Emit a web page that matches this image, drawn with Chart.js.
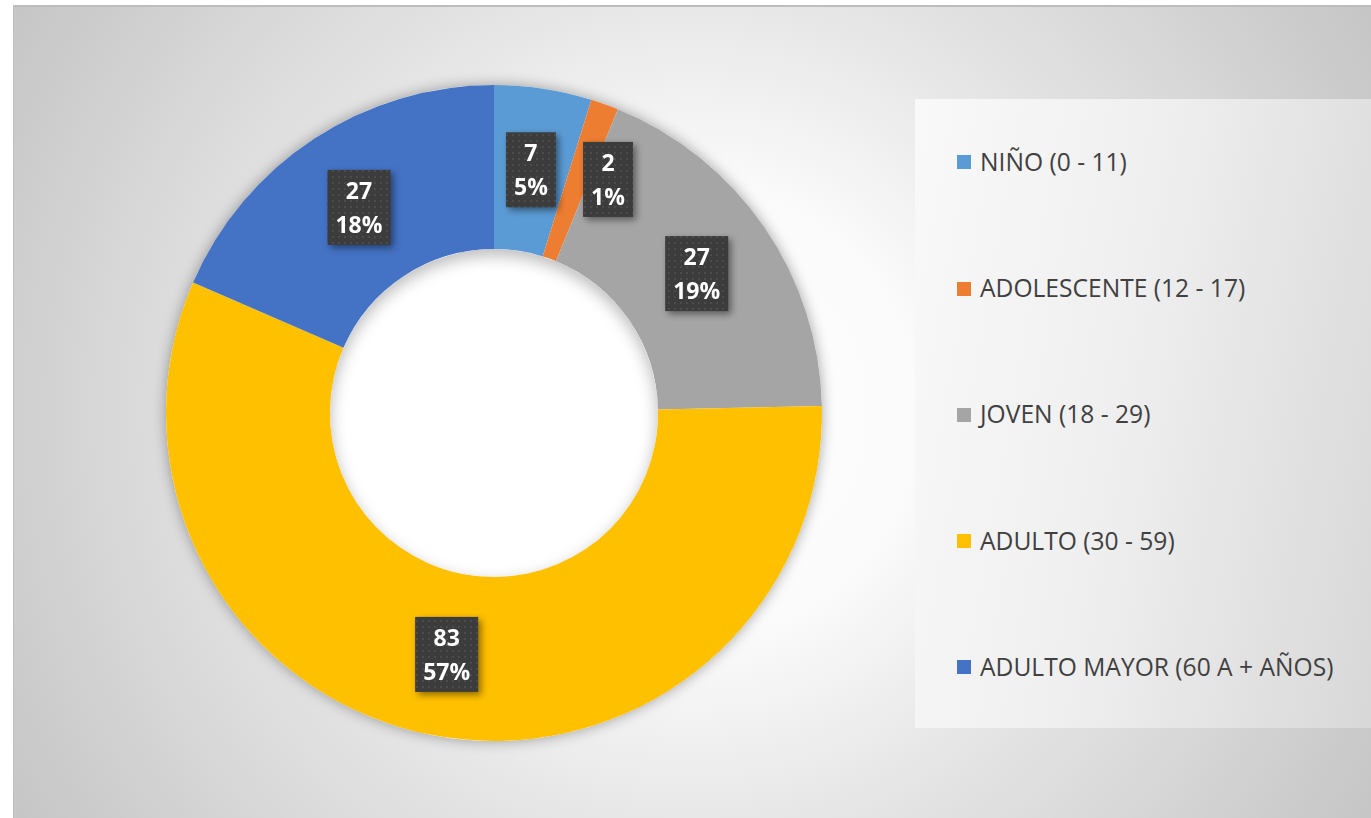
<!DOCTYPE html>
<html lang="es">
<head>
<meta charset="utf-8">
<title>Grupos de edad</title>
<script src="https://cdn.jsdelivr.net/npm/chart.js@4.4.0/dist/chart.umd.min.js"></script>
<style>
  html, body { margin: 0; padding: 0; background: #fff; }
  body { width: 1371px; height: 818px; position: relative; overflow: hidden; font-family: "Open Sans", sans-serif; }
  #frame {
    position: absolute; left: 13px; top: 5px; width: 1358px; height: 813px;
    box-sizing: border-box; border-top: 2px solid #bdbdbd; border-left: 1px solid #c2c2c2;
    background: radial-gradient(circle at 50% 50%, #ffffff 0px, #fbfbfb 220px, #e3e3e3 450px, #dadada 560px, #cfcfcf 680px, #c3c3c3 820px);
  }
  #legendBox {
    position: absolute; left: 915px; top: 99px; width: 456px; height: 629px;
    background: linear-gradient(100deg, #f9f9f9 0%, #efefef 45%, #d8d8d8 100%);
  }
  .item { position: absolute; left: 42px; height: 30px; line-height: 30px; font-size: 24.6px; color: #404040; white-space: nowrap; }
  .item .sw { display: inline-block; width: 14px; height: 14px; margin-right: 9px; vertical-align: middle; position: relative; top: -2px; }
  #chart { position: absolute; left: 0; top: 0; }
</style>
</head>
<body>
<div id="frame"></div>
<div id="legendBox"></div>
<canvas id="chart" width="1371" height="818"></canvas>
<script>
// ---- data ----
const ageGroups = ['NIÑO (0 - 11)', 'ADOLESCENTE (12 - 17)', 'JOVEN (18 - 29)', 'ADULTO (30 - 59)', 'ADULTO MAYOR (60 A + AÑOS)'];
const personCounts = [7, 2, 27, 83, 27];
const percentLabels = ['5%', '1%', '19%', '57%', '18%'];
const sliceColors = ['#5B9BD5', '#ED7D31', '#A5A5A5', '#FFC000', '#4472C4'];

// the small orange label is pushed aside so it does not sit on the 5% one
const labelNudge = [[0, 0], [31, -2], [0, 0], [0, 0], [0, 0]];

// ---- legend (html, right side box) ----
const legendBox = document.getElementById('legendBox');
ageGroups.forEach((name, i) => {
    const row = document.createElement('div');
    row.className = 'item';
    row.style.top = (48 + i * 126.2) + 'px';
    const sw = document.createElement('span');
    sw.className = 'sw';
    sw.style.background = sliceColors[i];
    row.appendChild(sw);
    row.appendChild(document.createTextNode(name));
    legendBox.appendChild(row);
});

// dotted dark texture for the value boxes
function makeDots() {
    const c = document.createElement('canvas');
    c.width = 6; c.height = 6;
    const g = c.getContext('2d');
    g.fillStyle = '#3c3c3c';
    g.fillRect(0, 0, 6, 6);
    g.fillStyle = '#4b4b4b';
    g.fillRect(2, 2, 2, 2);
    return c;
}
const dots = makeDots();

// soft shadow under the ring + inner shade of the hole
const ringShadow = {
    id: 'ringShadow',
    beforeDatasetsDraw(chart) {
        const arc = chart.getDatasetMeta(0).data[0];
        if (!arc) return;
        const ctx = chart.ctx;
        ctx.save();
        ctx.shadowColor = 'rgba(0,0,0,0.35)';
        ctx.shadowBlur = 14;
        ctx.fillStyle = '#ffffff';
        ctx.beginPath();
        ctx.arc(arc.x, arc.y, arc.outerRadius, 0, Math.PI * 2);
        ctx.fill();
        ctx.restore();
    },
    afterDatasetsDraw(chart) {
        const arc = chart.getDatasetMeta(0).data[0];
        if (!arc) return;
        const ctx = chart.ctx;
        ctx.save();
        ctx.beginPath();
        ctx.arc(arc.x, arc.y, arc.innerRadius, 0, Math.PI * 2);
        ctx.clip();
        ctx.shadowColor = 'rgba(0,0,0,0.28)';
        ctx.shadowBlur = 16;
        ctx.shadowOffsetY = 6;
        ctx.lineWidth = 20;
        ctx.strokeStyle = '#ffffff';
        ctx.beginPath();
        ctx.arc(arc.x, arc.y, arc.innerRadius + 10, 0, Math.PI * 2);
        ctx.stroke();
        ctx.restore();
    }
};

// value + percent boxes on each slice
const valueBoxes = {
    id: 'valueBoxes',
    afterDraw(chart) {
        const ctx = chart.ctx;
        const meta = chart.getDatasetMeta(0);
        const pattern = ctx.createPattern(dots, 'repeat');
        ctx.save();
        ctx.font = 'bold 23px "Open Sans"';
        meta.data.forEach((arc, i) => {
            const p = arc.tooltipPosition(true);
            const cx = p.x + labelNudge[i][0];
            const cy = p.y + labelNudge[i][1];
            const top = String(personCounts[i]);
            const bottom = percentLabels[i];
            const w = Math.max(ctx.measureText(top).width, ctx.measureText(bottom).width) + 16;
            const h = 75;
            ctx.save();
            ctx.shadowColor = 'rgba(0,0,0,0.45)';
            ctx.shadowBlur = 7;
            ctx.shadowOffsetX = 3;
            ctx.shadowOffsetY = 3;
            ctx.fillStyle = pattern;
            ctx.fillRect(cx - w / 2, cy - h / 2, w, h);
            ctx.restore();
            ctx.fillStyle = '#ffffff';
            ctx.textAlign = 'center';
            ctx.textBaseline = 'middle';
            ctx.fillText(top, cx, cy - 15);
            ctx.fillText(bottom, cx, cy + 19);
        });
        ctx.restore();
    }
};

const ctx = document.getElementById('chart');

let ageChart = new Chart(ctx, {
    type: 'doughnut',
    data: {
        labels: ageGroups,
        datasets: [{
            data: personCounts,
            backgroundColor: sliceColors,
            borderWidth: 0
        }]
    },
    options: {
        responsive: false,
        devicePixelRatio: 1,
        animation: false,
        cutout: '50%',
        layout: {
            // puts the ring centre at (494, 413) with a 328px radius
            padding: { left: 166, right: 549, top: 85, bottom: 77 }
        },
        plugins: {
            legend: { display: false },
            tooltip: { enabled: false }
        }
    },
    plugins: [ringShadow, valueBoxes]
});
</script>
</body>
</html>
